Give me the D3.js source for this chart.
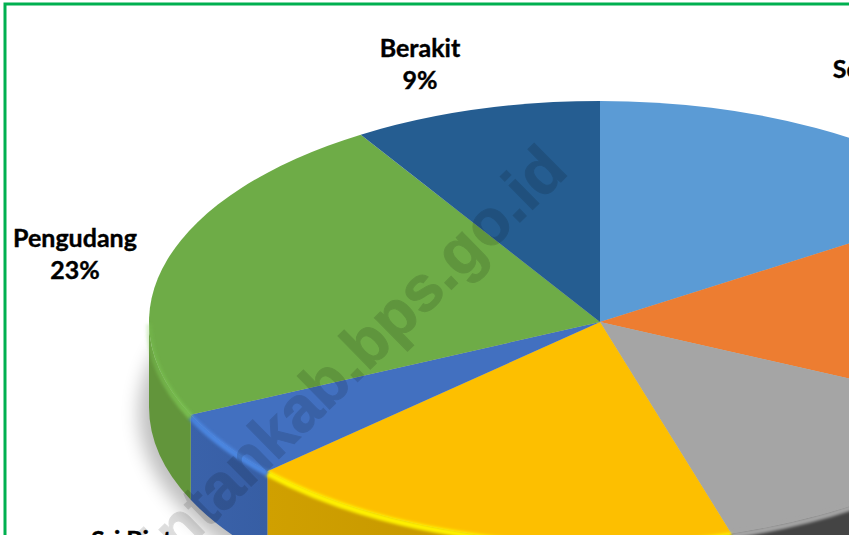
<!DOCTYPE html>
<html>
<head>
<meta charset="utf-8">
<script src="https://cdn.jsdelivr.net/npm/d3@7"></script>
<style>
  html, body { margin: 0; padding: 0; background: #fff; overflow: hidden; }
  svg { display: block; }
</style>
</head>
<body>
<script>
// shares in percent, clockwise from 12 o'clock (estimated from the slice edges)
var categories = ["Sebong Lagoi", "", "", "", "Sri Bintan", "Pengudang", "Berakit"];
var values = [15.9, 16, 13.4, 17.9, 4.9, 23, 8.9];

// colours per slice
var topColors = ["#5b9bd5", "#ed7d31", "#a5a5a5", "#fdbf00", "#4270c0", "#6eac47", "#255d91"];
var wallStart = ["#4a80b0", "#c4662a", "#444444", "#d0a000", "#3a62aa", "#62953b", "#1e4d78"];
var wallEnd = ["#4a80b0", "#c4662a", "#444444", "#b88c00", "#375ea4", "#62953b", "#1e4d78"];
var rimColors = ["#6fb0ee", "#ff9545", "#a5a5a5", "#fff200", "#4b87e2", "#7cc552", "#2f74b0"];

// hand placed label anchors
var labelX = [907, 0, 0, 0, 145, 75, 420];
var labelY = [78, 0, 0, 0, 549, 247, 57];

var width = 851, height = 536;
var cx = 600, cy = 322, rx = 451, ry = 221, depth = 85;

var svg = d3.select("body").append("svg")
            .attr("width", width)
            .attr("height", height);

var defs = svg.append("defs");
defs.append("clipPath").attr("id", "frame")
    .append("rect").attr("width", 849).attr("height", 535);

defs.append("filter").attr("id", "soft")
    .attr("x", "-30%").attr("y", "-30%").attr("width", "160%").attr("height", "160%")
    .append("feGaussianBlur").attr("stdDeviation", 9);
defs.append("filter").attr("id", "rimBlur")
    .attr("filterUnits", "userSpaceOnUse")
    .attr("x", 0).attr("y", 0).attr("width", width).attr("height", height)
    .append("feGaussianBlur").attr("stdDeviation", 1.8);

var pie = d3.pie().sort(null).value(function(d) { return d; });
var slices = pie(values);

function pt(a, dy) {
  return [cx + rx * Math.sin(a), cy - ry * Math.cos(a) + (dy || 0)];
}

// part of a slice that faces the viewer
function front(d) {
  return [Math.max(d.startAngle, Math.PI / 2), Math.min(d.endAngle, Math.PI * 3 / 2)];
}

function wallPath(d) {
  var f = front(d);
  if (f[1] <= f[0]) return "";
  var a = pt(f[0]), b = pt(f[1]), c = pt(f[1], depth), e = pt(f[0], depth);
  var large = (f[1] - f[0]) > Math.PI ? 1 : 0;
  return "M" + a + "A" + rx + " " + ry + " 0 " + large + " 1 " + b +
         "L" + c + "A" + rx + " " + ry + " 0 " + large + " 0 " + e + "Z";
}

function rimPath(d) {
  var f = front(d);
  if (f[1] <= f[0]) return "";
  var large = (f[1] - f[0]) > Math.PI ? 1 : 0;
  return "M" + pt(f[0], 2) + "A" + rx + " " + ry + " 0 " + large + " 1 " + pt(f[1], 2);
}

slices.forEach(function(d, i) {
  var f = front(d);
  var wg = defs.append("linearGradient").attr("id", "wall" + i)
               .attr("gradientUnits", "userSpaceOnUse")
               .attr("x1", pt(f[1])[0]).attr("x2", pt(f[0])[0])
               .attr("y1", 0).attr("y2", 0);
  wg.append("stop").attr("offset", 0).attr("stop-color", wallStart[i]);
  wg.append("stop").attr("offset", 1).attr("stop-color", wallEnd[i]);

  var rg = defs.append("linearGradient").attr("id", "rim" + i)
               .attr("gradientUnits", "userSpaceOnUse")
               .attr("x1", 0).attr("x2", 0)
               .attr("y1", cy - 30).attr("y2", cy + 120);
  rg.append("stop").attr("offset", 0).attr("stop-color", rimColors[i]).attr("stop-opacity", 0);
  rg.append("stop").attr("offset", 1).attr("stop-color", rimColors[i]).attr("stop-opacity", 1);
});

var chart = svg.append("g").attr("clip-path", "url(#frame)");

// shadow under the disc
chart.append("ellipse")
     .attr("cx", cx - 4).attr("cy", cy + depth + 6)
     .attr("rx", rx + 6).attr("ry", ry + 6)
     .attr("fill", "#000").attr("opacity", 0.25)
     .attr("filter", "url(#soft)");

chart.selectAll("path.wall").data(slices).enter().append("path")
     .attr("class", "wall")
     .attr("d", wallPath)
     .attr("fill", function(d, i) { return "url(#wall" + i + ")"; });

var arc = d3.arc().innerRadius(0).outerRadius(rx);

chart.append("g")
     .attr("transform", "translate(" + cx + "," + cy + ") scale(1," + (ry / rx) + ")")
     .selectAll("path").data(slices).enter().append("path")
     .attr("d", arc)
     .attr("fill", function(d, i) { return topColors[i]; });

chart.selectAll("path.rim").data(slices).enter().append("path")
     .attr("class", "rim")
     .attr("d", rimPath)
     .attr("fill", "none")
     .attr("stroke", function(d, i) { return "url(#rim" + i + ")"; })
     .attr("stroke-width", 6)
     .attr("filter", "url(#rimBlur)");

// labels, name over percentage
slices.forEach(function(d, i) {
  if (!categories[i]) return;
  var t = chart.append("text")
               .attr("text-anchor", "middle")
               .attr("font-family", "Lato, sans-serif")
               .attr("font-weight", 700)
               .attr("font-size", 25)
               .attr("fill", "#000")
               .attr("stroke", "#000")
               .attr("stroke-width", 0.4);
  t.append("tspan").attr("x", labelX[i]).attr("y", labelY[i]).text(categories[i]);
  t.append("tspan").attr("x", labelX[i]).attr("y", labelY[i] + 32).text(Math.round(values[i]) + "%");
});

// watermark
chart.append("text")
     .attr("transform", "translate(570,173) rotate(-44.5)")
     .attr("text-anchor", "end")
     .attr("font-family", "'Liberation Sans', Arial, sans-serif")
     .attr("font-weight", 700)
     .attr("font-size", 64)
     .attr("fill", "#000")
     .attr("stroke", "#000")
     .attr("stroke-width", 1)
     .attr("opacity", 0.13)
     .text("bintankab.bps.go.id");

// green frame
chart.append("rect")
     .attr("x", 5).attr("y", 4)
     .attr("width", 900).attr("height", 600)
     .attr("fill", "none")
     .attr("stroke", "#00b050")
     .attr("stroke-width", 3);
</script>
</body>
</html>
